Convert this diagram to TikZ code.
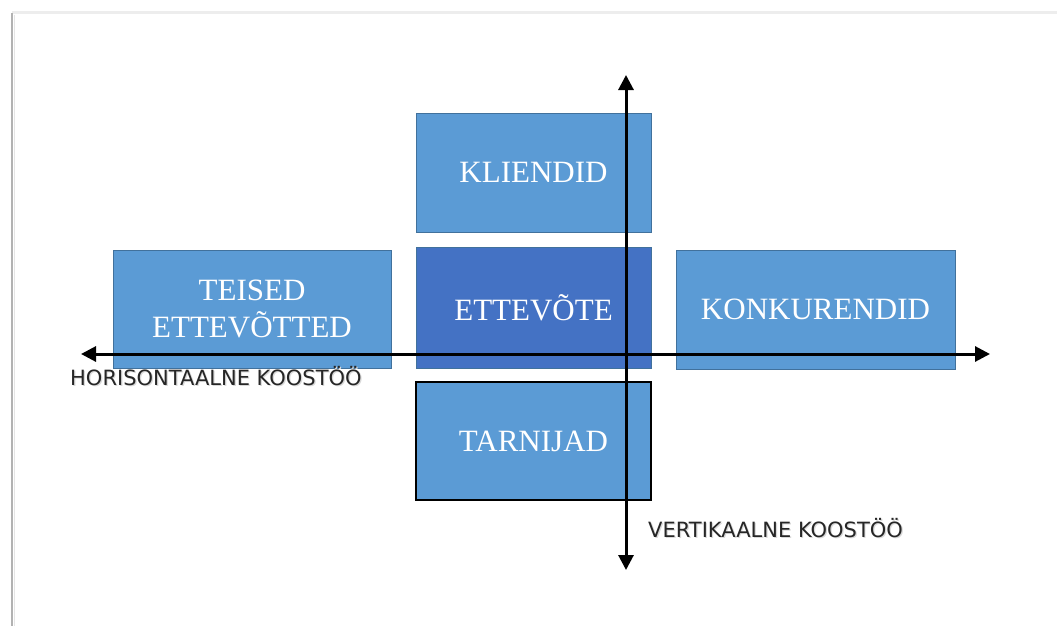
\documentclass[tikz,border=0pt]{standalone}
\usepackage{fontspec}
\setmainfont{Liberation Serif}
\newfontfamily\labfont{DejaVu Sans}
\usetikzlibrary{arrows.meta}
\definecolor{boxblue}{HTML}{5B9BD5}
\definecolor{boxedge}{HTML}{41719C}
\definecolor{coreblue}{HTML}{4472C4}
\begin{document}
\begin{tikzpicture}[x=1pt,y=-1pt,
  box/.style={fill=boxblue,draw=boxedge,line width=1pt,inner sep=0pt,
    text=white,align=center,font=\fontsize{31}{37}\selectfont},
  axis/.style={line width=3pt,-{Triangle[length=15pt,width=15pt]}},
  lab/.style={font=\labfont\fontsize{21}{24}\selectfont,inner sep=0pt,anchor=base west}]
\useasboundingbox (0,0) rectangle (1057,626);
\fill[white] (0,0) rectangle (1057,626);
% page edge shadow
\draw[black!7,line width=3pt] (12,13) -- (1057,13);
\draw[black!30,line width=2.5pt] (12,13) -- (12,626);
\draw[black!10,line width=1.5pt] (14.5,15) -- (14.5,626);
% boxes
\node[box,minimum width=235pt,minimum height=119pt] (kl) at (533.5,172.5) {KLIENDID};
\node[box,fill=coreblue,minimum width=235pt,minimum height=121pt] (et) at (533.5,307.5) {ETTEVÕTE};
\node[box,draw=black,line width=1.5pt,minimum width=235pt,minimum height=118pt] (ta) at (533.5,441) {TARNIJAD};
\node[box,minimum width=278pt,minimum height=118pt] (te) at (252,309) {TEISED\\ETTEVÕTTED};
\node[box,minimum width=279pt,minimum height=119pt] (ko) at (815.5,309.5) {KONKURENDID};
% axes
\coordinate (hl) at (81,354);
\coordinate (hr) at (990,354);
\coordinate (vt) at (626,75);
\coordinate (vb) at (626,570);
\coordinate (hmid) at (626,354);
\draw[axis] (hmid) -- (hl);
\draw[axis] (hmid) -- (hr);
\draw[axis] (hmid) -- (vt);
\draw[axis] (hmid) -- (vb);
% labels with soft shadow
\node[lab,text=black!15] at (71.2,386.2) {HORISONTAALNE KOOSTÖÖ};
\node[lab,text=black!85] (hlab) at (70,385) {HORISONTAALNE KOOSTÖÖ};
\node[lab,text=black!15] at (649.2,538.2) {VERTIKAALNE KOOSTÖÖ};
\node[lab,text=black!85] (vlab) at (648,537) {VERTIKAALNE KOOSTÖÖ};
\end{tikzpicture}
\end{document}
